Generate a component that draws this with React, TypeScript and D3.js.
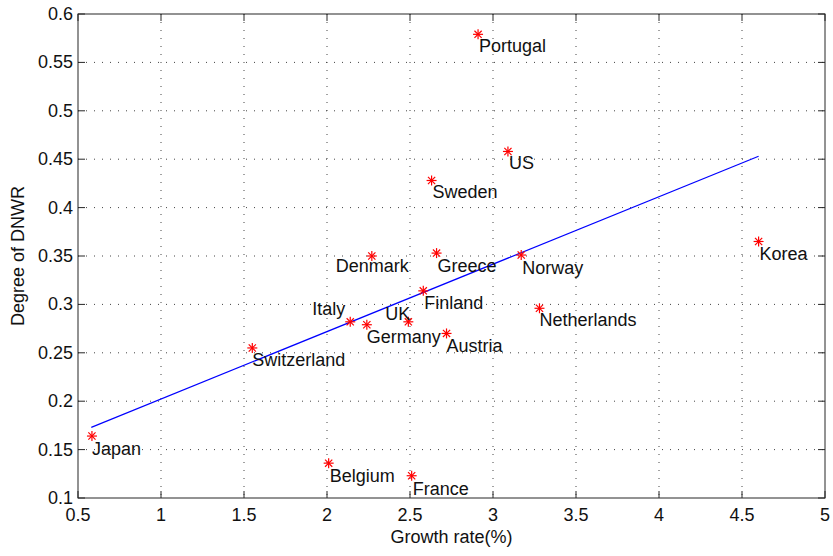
import React from "react";
import * as d3 from "d3";

const countries = ["Portugal","US","Sweden","Denmark","Greece","Norway","Korea","Finland","Italy","Germany","UK","Austria","Netherlands","Switzerland","Japan","Belgium","France"];
const growth = [2.91,3.09,2.63,2.27,2.66,3.17,4.60,2.58,2.14,2.24,2.49,2.72,3.28,1.55,0.584,2.01,2.51];
const dnwr = [0.579,0.458,0.428,0.350,0.353,0.351,0.365,0.314,0.282,0.279,0.282,0.270,0.296,0.255,0.164,0.136,0.123];
// label offsets in px (dx, dy to label's vertical middle)
const labelDx = [1,1,1,-36,1,1,1,1,-38,0,-23,0,0,0,0,1,1];
const labelDy = [12,12,12,10,13,13,13,12,-13,12,-8,13,12,12,13,13,13];

const fitX = [0.58, 4.6];
const fitY = [0.173, 0.453];

const xTicks = [0.5,1,1.5,2,2.5,3,3.5,4,4.5,5];
const yTicks = [0.1,0.15,0.2,0.25,0.3,0.35,0.4,0.45,0.5,0.55,0.6];

const W = 833, H = 556;
const L = 78, R = 825, T = 14, B = 498;

export default function App() {
  const x = d3.scaleLinear().domain([0.5, 5]).range([L, R]);
  const y = d3.scaleLinear().domain([0.1, 0.6]).range([B, T]);
  const font = "'Liberation Sans', Arial, Helvetica, sans-serif";
  const axisColor = "#262626";
  const line = d3.line<number>().x((_, i) => x(fitX[i])).y((_, i) => y(fitY[i]));
  const s = 5;
  return (
    <svg width={W} height={H} style={{ position: "absolute", left: 0, top: 0, background: "#fff" }} fontFamily={font}>
      <rect x={0} y={0} width={W} height={H} fill="#fff" />
      {/* grid */}
      {xTicks.slice(1, -1).map((t) => (
        <line key={"gx" + t} x1={x(t)} x2={x(t)} y1={T} y2={B} stroke="#444" strokeWidth={1} strokeDasharray="1 7" />
      ))}
      {yTicks.slice(1, -1).map((t) => (
        <line key={"gy" + t} x1={L} x2={R} y1={y(t)} y2={y(t)} stroke="#444" strokeWidth={1} strokeDasharray="1 7" />
      ))}
      {/* fit line */}
      <path d={line(fitX) || ""} fill="none" stroke="#0000ff" strokeWidth={1.2} />
      {/* markers */}
      {countries.map((c, i) => {
        const cx = x(growth[i]), cy = y(dnwr[i]);
        const d = s * 0.72;
        return (
          <g key={c} stroke="#ff0000" strokeWidth={1.2}>
            <line x1={cx - s} x2={cx + s} y1={cy} y2={cy} />
            <line x1={cx} x2={cx} y1={cy - s} y2={cy + s} />
            <line x1={cx - d} x2={cx + d} y1={cy - d} y2={cy + d} />
            <line x1={cx - d} x2={cx + d} y1={cy + d} y2={cy - d} />
          </g>
        );
      })}
      {/* labels */}
      {countries.map((c, i) => (
        <text key={"t" + c} x={x(growth[i]) + labelDx[i]} y={y(dnwr[i]) + labelDy[i]} dominantBaseline="central" fontSize={18} fill="#111">
          {c}
        </text>
      ))}
      {/* box */}
      <rect x={L} y={T} width={R - L} height={B - T} fill="none" stroke={axisColor} strokeWidth={1} />
      {/* ticks */}
      {xTicks.map((t) => (
        <g key={"xt" + t} stroke={axisColor}>
          <line x1={x(t)} x2={x(t)} y1={B} y2={B - 7} />
          <line x1={x(t)} x2={x(t)} y1={T} y2={T + 7} />
        </g>
      ))}
      {yTicks.map((t) => (
        <g key={"yt" + t} stroke={axisColor}>
          <line x1={L} x2={L + 7} y1={y(t)} y2={y(t)} />
          <line x1={R} x2={R - 7} y1={y(t)} y2={y(t)} />
        </g>
      ))}
      {xTicks.map((t) => (
        <text key={"xl" + t} x={x(t)} y={B + 23} textAnchor="middle" fontSize={18} fill="#111">{String(t)}</text>
      ))}
      {yTicks.map((t) => (
        <text key={"yl" + t} x={L - 5} y={y(t)} textAnchor="end" dominantBaseline="central" fontSize={18} fill="#111">{String(t)}</text>
      ))}
      <text x={(L + R) / 2} y={B + 45} textAnchor="middle" fontSize={18} fill="#111">Growth rate(%)</text>
      <text transform={`translate(18, ${(T + B) / 2}) rotate(-90)`} textAnchor="middle" dominantBaseline="central" fontSize={18} fill="#111">Degree of DNWR</text>
    </svg>
  );
}
